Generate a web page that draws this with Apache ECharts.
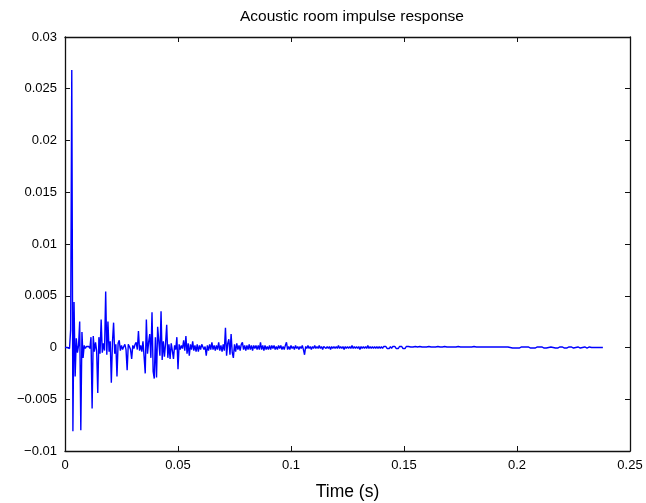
<!DOCTYPE html>
<html>
<head>
<meta charset="utf-8">
<script src="https://cdn.jsdelivr.net/npm/echarts@6/dist/echarts.min.js"></script>
<style>
html,body{margin:0;padding:0;background:#fff;}
#chart{width:646px;height:503px;}
</style>
</head>
<body>
<div id="chart"></div>
<script>
// ---- data ----
const chartTitle = 'Acoustic room impulse response';
const xAxisTitle = 'Time (s)';
const xTicks = [0, 0.05, 0.1, 0.15, 0.2, 0.25];
const yTicks = [-0.01, -0.005, 0, 0.005, 0.01, 0.015, 0.02, 0.025, 0.03];
const sampleInterval = 0.0005; // seconds between samples
const amplitude = [
0, 0, 0, 0, -0.0001, 0.0017, 0.0268, -0.0081, 0.0044, -0.0028,
0.0009, -0.0005, 0.0002, 0.0025, -0.0080, 0.0015, -0.0010, 0.0002, -0.0001, 0.0001,
0, 0.0001, -0.0001, 0.0010, -0.0059, 0.0011, -0.0004, 0.0005, -0.0003, -0.0044,
0.0010, -0.0006, 0.0027, -0.0005, 0.0004, -0.0003, 0.0054, -0.0007, 0.0025, -0.0004,
0.0006, -0.0034, 0.0005, 0.0024, -0.0006, 0.0003, -0.0028, 0.0004, 0.0007, -0.0003,
0.0002, -0.0002, 0.0001, 0.0003, -0.0002, -0.0022, 0.0003, 0.0001, -0.0002, -0.0011,
0.0002, -0.0001, 0.0003, 0.0005, -0.0002, 0.0016, -0.0003, 0.0002, -0.0004, 0.0006,
-0.0009, -0.0025, 0.0027, -0.0006, 0.0005, 0.0013, -0.0010, 0.0034, -0.0023, -0.0030,
0.0010, -0.0029, 0.0020, 0.0019, -0.0008, 0.0035, -0.0012, 0.0006, -0.0009, 0.0004,
0.0022, -0.0010, 0.0003, -0.0011, 0.0004, -0.0003, -0.0011, 0.0002, -0.0002, 0.0010,
-0.0021, 0.0003, -0.0002, 0.0002, -0.0001, 0.0007, -0.0003, 0.0011, -0.0006, 0.0004,
-0.0008, 0.0003, -0.0002, 0.0006, -0.0003, 0.0002, -0.0004, 0.0003, -0.0004, 0.0002,
-0.0002, 0.0003, 0.0004, -0.0002, 0.0001, -0.0008, 0.0002, -0.0003, 0.0003, -0.0002,
0.0005, -0.0002, 0.0002, -0.0003, 0.0002, -0.0002, 0.0005, -0.0003, 0.0002, -0.0004,
0.0003, -0.0003, 0.0019, -0.0008, 0.0004, 0.0008, -0.0007, 0.0013, -0.0005, -0.0010,
0.0003, -0.0004, 0.0004, -0.0002, 0.0002, -0.0003, 0.0003, 0.0005, -0.0002, 0.0002,
-0.0003, 0.0002, -0.0002, 0.0003, -0.0002, 0.0002, -0.0003, 0.0002, -0.0001, 0.0002,
-0.0002, 0.0002, -0.0002, 0.0005, -0.0002, 0.0002, -0.0003, 0.0002, -0.0002, 0.0001,
-0.0002, 0.0002, -0.0002, 0.0002, -0.0001, 0.0002, -0.0002, 0.0001, -0.0002, 0.0002,
-0.0001, 0.0002, -0.0002, 0.0001, -0.0002, 0.0002, 0.0005, -0.0002, 0.0001, -0.0002,
0.0002, -0.0001, 0.0001, -0.0002, 0.0002, -0.0001, 0.0001, -0.0002, 0.0001, -0.0001,
0.0002, -0.0002, -0.0007, 0.0001, -0.0001, 0.0002, -0.0001, 0.0001, -0.0002, 0.0001,
-0.0001, 0.0002, -0.0001, 0.0001, -0.0001, 0.0002, -0.0001, 0.0001, -0.0002, 0.0001,
0.0002, -0.0001, 0.0001, -0.0001, 0.0001, -0.0002, 0.0001, -0.0001, 0.0001, -0.0001,
0.0001, -0.0001, 0.0002, -0.0001, 0.0001, -0.0001, 0.0001, -0.0002, 0.0001, -0.0001,
0.0001, -0.0001, 0.0001, -0.0001, 0.0002, -0.0001, 0.0001, -0.0001, 0.0001, -0.0001,
0.0001, -0.0002, 0.0001, -0.0001, 0.0001, -0.0001, 0.0001, -0.0001, 0.0002, -0.0001,
0.0001, -0.0001, 0.0001, -0.0001, 0.0001, -0.0001, 0.0001, -0.0001, 0.0001, -0.0001,
0.0001, -0.0001, 0.0001, -0.00005, 0.0001, -0.0001, 0.00005, -0.0001, 0.0001, -0.0001,
0.0001, -0.00005, 0.0001, -0.0001, 0.00005, -0.0001, 0.0001, -0.00005, 0.0001, -0.0001,
0.00005, -0.0001, 0.0001, -0.00005, 0.0001, -0.00005, 0.00005, -0.0001, 0.00005, -0.00005,
0.0001, -0.00005, 0.00005, -0.00005, 0.0001, -0.00005, 0.00005, -0.0001, 0.00005, -0.00005,
0.00005, -0.00005, 0.0001, -0.00005, 0.00005, -0.00005, 0.00005, -0.0001, 0.00005, -0.00005,
0.0001, -0.00005, 0.00005, -0.00005, 0.00005, -0.00005, 0.0001, -0.00005, 0.00005, -0.00005,
0.00005, -0.0001, 0.00005, -0.00005, 0.00005, -0.00005, 0.00005, -0.00005, 0.0001, -0.00005,
0.00005, -0.00005, 0.00005, -0.00005, 0.00005, -0.0001, 0.00005, -0.00005, 0.00005, -0.00005,
0.00005, -0.00005, 0.0001, -0.00005, 0.00005, -0.00005, 0.00005, -0.00005, 0.00005, -0.00005,
0.00005, -0.00005, 0.00005, -0.00005, 0.00005, -0.00005, 0.00005, -0.0001, 0.00005, -0.00005,
0.00005, -0.00005, 0.00005, -0.00005, 0.00005, -0.00005, 0.00005, -0.00005, 0.00005, -0.00005,
0.00005, -0.00005, 0.00005, -0.00005, 0, 0.00005, -0.00005, 0.00005, -0.00005, 0.00005,
-0.00005, 0.00005, -0.00005, 0, 0.00005, -0.00005, 0.00005, -0.00005, 0.00005, -0.00005,
0.00005, 0, -0.00005, 0.00005, -0.00005, 0.00005, -0.00005, 0, 0.00005, -0.00005,
0.00005, -0.00005, 0.00005, 0, -0.00005, 0.00005, -0.00005, 0.00005, 0, -0.00005,
0.00005, -0.00005, 0, 0.00005, -0.00005, 0.00005, -0.00005, 0, 0.00005, -0.00005,
0.00005, 0, -0.00005, 0.00005, -0.00005, 0, 0.00005, -0.00005, 0.00005, 0,
-0.00005, 0.00005, 0, -0.00005, 0.00005, 0, -0.00005, 0.00005, 0, -0.00005,
0.00005, 0, -0.00005, 0, 0.00005, -0.00005, 0, 0.00005, 0, -0.00005,
0, 0.00005, 0, -0.00005, 0, 0, 0
];

// ---- chart ----
const seriesData = amplitude.map((v, i) => [i * sampleInterval, v]);
const FONT = '"Liberation Sans", Arial, Helvetica, sans-serif';
const fmtNum = v => String(Number(v.toFixed(4))).replace('-', '\u2212');

const xMin = xTicks[0], xMax = xTicks[xTicks.length - 1], xStep = xTicks[1] - xTicks[0];
const yMin = yTicks[0], yMax = yTicks[yTicks.length - 1], yStep = yTicks[1] - yTicks[0];

const axisLine = { show: true, onZero: false, lineStyle: { color: '#111', width: 1.3 } };
const tickIn = { show: true, inside: true, length: 5, lineStyle: { color: '#111', width: 1 } };

const chart = echarts.init(document.getElementById('chart'), null, { renderer: 'canvas' });
chart.setOption({
  animation: false,
  backgroundColor: '#fff',
  title: {
    text: chartTitle,
    left: 347, top: 4, textAlign: 'center',
    textStyle: { fontFamily: FONT, fontSize: 15.5, fontWeight: 'normal', color: '#000' }
  },
  grid: { left: 65, right: 16, top: 37, bottom: 52, containLabel: false, outerBoundsMode: 'none' },
  xAxis: [
    {
      type: 'value', position: 'bottom', min: xMin, max: xMax, interval: xStep,
      name: xAxisTitle, nameLocation: 'middle', nameGap: 32,
      nameTextStyle: { fontFamily: FONT, fontSize: 17.5, color: '#000' },
      axisLine: axisLine, axisTick: tickIn, splitLine: { show: false },
      axisLabel: { fontFamily: FONT, fontSize: 13, color: '#000', margin: 8, formatter: fmtNum }
    },
    {
      type: 'value', position: 'top', min: xMin, max: xMax, interval: xStep,
      axisLine: axisLine, axisTick: tickIn, splitLine: { show: false },
      axisLabel: { show: false }
    }
  ],
  yAxis: [
    {
      type: 'value', position: 'left', min: yMin, max: yMax, interval: yStep,
      axisLine: axisLine, axisTick: tickIn, splitLine: { show: false },
      axisLabel: { fontFamily: FONT, fontSize: 13, color: '#000', margin: 8, formatter: fmtNum }
    },
    {
      type: 'value', position: 'right', min: yMin, max: yMax, interval: yStep,
      axisLine: axisLine, axisTick: tickIn, splitLine: { show: false },
      axisLabel: { show: false }
    }
  ],
  series: [{
    type: 'line',
    xAxisIndex: 0, yAxisIndex: 0,
    data: seriesData,
    showSymbol: false, symbol: 'none',
    sampling: null,
    lineStyle: { color: '#0000ff', width: 1.4 },
    itemStyle: { color: '#0000ff' },
    z: 1
  }]
});
</script>
</body>
</html>
